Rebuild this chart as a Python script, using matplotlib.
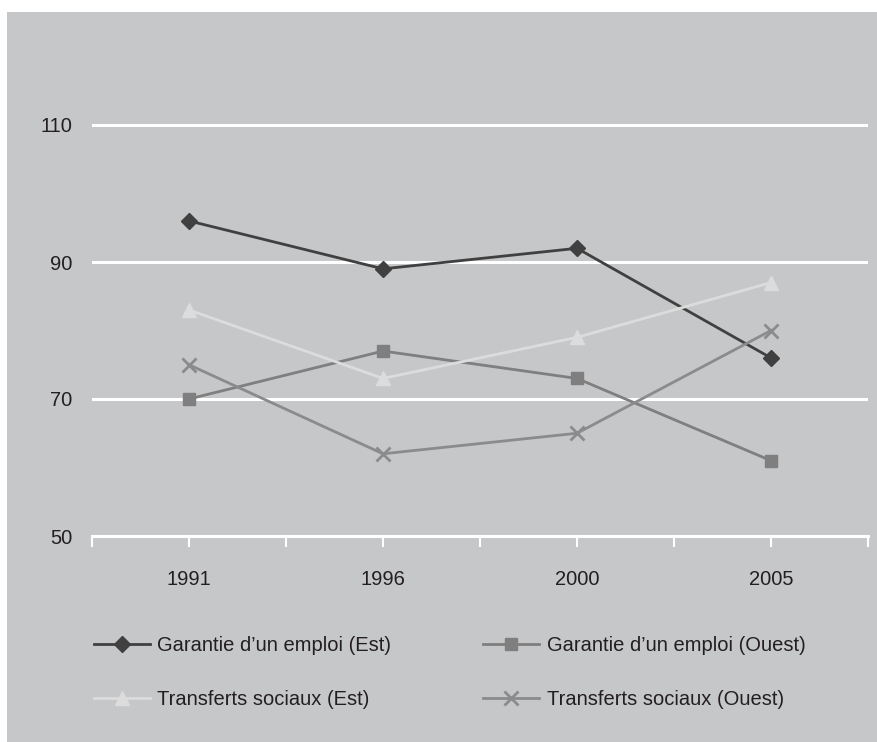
import matplotlib.pyplot as plt
from matplotlib.patches import Rectangle
from matplotlib.lines import Line2D

plt.rcParams['font.family'] = ['Liberation Sans Narrow', 'Liberation Sans', 'DejaVu Sans']

years = ["1991", "1996", "2000", "2005"]
garantie_est = [96, 89, 92, 76]
garantie_ouest = [70, 77, 73, 61]
transferts_est = [83, 73, 79, 87]
transferts_ouest = [75, 62, 65, 80]

W, H = 877, 742
fig = plt.figure(figsize=(W / 100, H / 100), dpi=100)
fig.patch.set_facecolor("white")

bg = "#c6c7c9"
# grey panel, white strip at top
fig.patches.append(Rectangle((7 / W, 0), 1 - 7 / W, 1 - 12 / H,
                             transform=fig.transFigure, facecolor=bg,
                             edgecolor="none", zorder=-5))

# plot area: x 92..868 px, y 536 (value 50) up to ~40 px
left, right = 92 / W, 868 / W
bottom, top = 1 - 536 / H, 1 - 40 / H
ax = fig.add_axes([left, bottom, right - left, top - bottom])
ax.set_facecolor("none")
ax.set_zorder(2)

xpos = [1, 3, 5, 7]
px_per_unit = 137 / 20
ymax = 50 + (536 - 40) / px_per_unit
ax.set_xlim(0, 8)
ax.set_ylim(50, ymax)

for y in [70, 90, 110]:
    ax.axhline(y, color="white", lw=2.2, zorder=1)

series = [
    (garantie_est, "#404040", "D", 8, "Garantie d\u2019un emploi (Est)"),
    (garantie_ouest, "#7f7f80", "s", 9, "Garantie d\u2019un emploi (Ouest)"),
    (transferts_est, "#dcdcdc", "^", 10, "Transferts sociaux (Est)"),
    (transferts_ouest, "#8b8b8d", "x", 10, "Transferts sociaux (Ouest)"),
]
for vals, col, mk, ms, lab in series:
    ax.plot(xpos, vals, color=col, lw=2, marker=mk, markersize=ms,
            markeredgewidth=2 if mk == "x" else 1, markeredgecolor=col,
            markerfacecolor=col, zorder=3, label=lab)

for s in ["top", "right", "left"]:
    ax.spines[s].set_visible(False)
ax.spines["bottom"].set_color("white")
ax.spines["bottom"].set_linewidth(2.2)

# ticks between and at categories, labels only at categories
ax.set_xticks(range(0, 9))
xlabels = [""] * 9
for p, yr in zip(xpos, years):
    xlabels[p] = yr
ax.set_xticklabels(xlabels, fontsize=14.5, color="#231f20")
ax.tick_params(axis="x", direction="out", length=8, width=1.5, color="white", pad=16.5)

ax.set_yticks([50, 70, 90, 110])
ax.set_yticklabels(["50", "70", "90", "110"], fontsize=14.5, color="#231f20")
ax.tick_params(axis="y", length=0, pad=14)

handles = [Line2D([], [], color=c, lw=2, marker=m, markersize=ms,
                  markeredgewidth=2 if m == "x" else 1,
                  markeredgecolor=c, markerfacecolor=c)
           for _, c, m, ms, _ in series]
labels = [s[4] for s in series]
leg = fig.legend([handles[0], handles[2], handles[1], handles[3]],
                 [labels[0], labels[2], labels[1], labels[3]],
                 ncol=2, loc="upper left", bbox_to_anchor=(94 / W, 1 - 636 / H),
                 frameon=False, fontsize=14.5, handlelength=2.8,
                 handletextpad=0.35, columnspacing=4.55, labelspacing=1.75,
                 borderaxespad=0, borderpad=0)
for t in leg.get_texts():
    t.set_color("#231f20")

fig.savefig("out.png", dpi=100, facecolor="white")
